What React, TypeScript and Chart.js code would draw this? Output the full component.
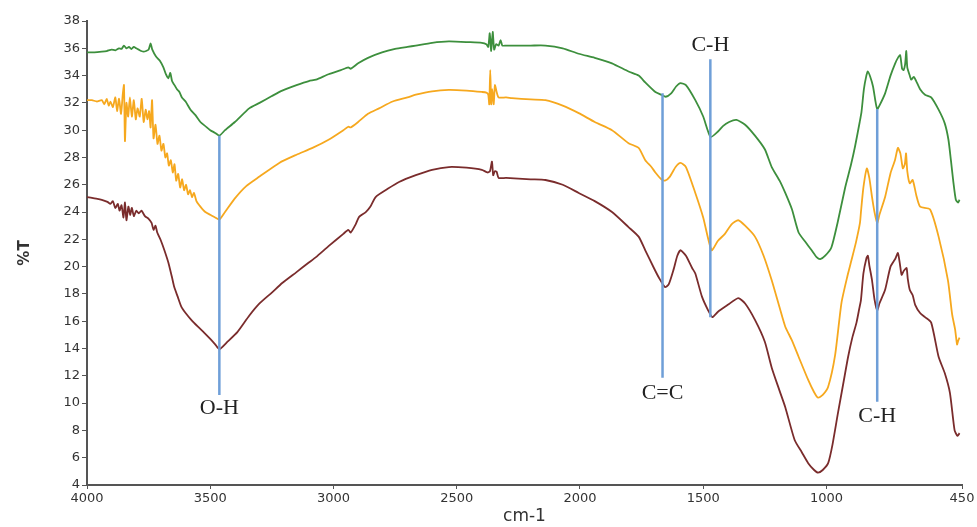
import React, { useEffect, useRef } from "react";
import { Chart, registerables } from "chart.js";

Chart.register(...registerables);

// ---- Data (wavenumber cm-1, %T) ----
const greenX = [4000,3970,3940,3920,3900,3885,3870,3860,3850,3840,3830,3820,3810,3800,3790,3780,3770,3760,3750,3742,3735,3720,3705,3690,3680,3670,3662,3655,3645,3635,3625,3615,3600,3580,3560,3540,3520,3500,3480,3463,3440,3400,3342,3300,3250,3208,3150,3100,3071,3020,2970,2940,2930,2900,2860,2803,2750,2700,2666,2600,2532,2450,2398,2380,2372,2366,2360,2354,2348,2340,2330,2322,2315,2300,2200,2140,2070,2005,1940,1870,1803,1762,1735,1694,1670,1652,1630,1610,1592,1570,1532,1500,1470,1440,1420,1395,1365,1330,1290,1250,1222,1190,1167,1140,1113,1085,1060,1040,1025,1005,980,955,924,900,884,865,858,848,838,832,822,811,800,794,785,762,740,721,710,701,693,687,681,676,672,662,656,646,636,620,600,575,545,520,505,495,485,475,466,460];
const greenY = [35.7,35.7,35.75,35.8,35.9,35.85,36.0,35.95,36.2,36.0,36.1,35.95,36.1,36.0,35.9,35.8,35.75,35.8,35.9,36.35,35.9,35.4,35.1,34.6,34.1,33.8,34.2,33.6,33.3,33.0,32.8,32.4,32.1,31.5,31.1,30.6,30.3,30.0,29.8,29.6,30.0,30.6,31.6,32.0,32.5,32.9,33.3,33.6,33.7,34.1,34.4,34.6,34.5,34.9,35.3,35.7,35.95,36.1,36.2,36.4,36.5,36.45,36.4,36.3,36.1,37.1,35.8,37.2,35.9,36.3,36.2,36.6,36.2,36.2,36.2,36.2,36.0,35.6,35.3,34.9,34.3,34.0,33.5,32.8,32.6,32.45,32.7,33.2,33.45,33.3,32.2,31.0,29.5,29.9,30.3,30.6,30.75,30.4,29.6,28.6,27.3,26.3,25.4,24.2,22.5,21.8,21.2,20.7,20.55,20.8,21.4,23.2,25.8,27.5,28.8,30.6,31.3,33.0,34.0,34.3,33.9,33.2,32.0,31.55,31.8,32.7,34.0,34.9,35.3,35.5,34.5,34.4,34.8,35.8,34.6,34.0,33.7,33.9,33.6,33.0,32.6,32.4,31.5,30.5,29.3,27.8,26.2,24.9,24.7,24.9];

const orangeX = [4000,3980,3960,3940,3930,3920,3912,3905,3895,3885,3878,3870,3862,3855,3850,3846,3840,3833,3826,3818,3810,3802,3795,3786,3778,3770,3762,3755,3748,3742,3736,3730,3722,3714,3706,3698,3690,3682,3675,3668,3660,3652,3645,3638,3630,3622,3614,3606,3598,3590,3582,3574,3566,3556,3540,3520,3500,3480,3463,3440,3400,3354,3300,3220,3150,3085,3020,2960,2940,2930,2900,2860,2815,2760,2700,2666,2600,2532,2460,2398,2380,2372,2368,2364,2360,2356,2350,2345,2338,2330,2300,2276,2200,2140,2070,2005,1940,1870,1803,1762,1735,1710,1694,1670,1655,1635,1612,1592,1570,1532,1500,1466,1440,1412,1385,1358,1330,1290,1255,1222,1190,1167,1140,1113,1074,1050,1034,1015,993,965,939,915,898,880,864,860,850,836,826,815,805,794,785,762,740,722,710,700,690,682,677,672,662,650,635,620,580,545,507,490,478,470,465,460];
const orangeY = [32.2,32.2,32.1,32.2,31.9,32.3,31.8,32.1,31.7,32.4,31.4,32.3,31.2,32.6,33.3,29.2,32.0,31.0,32.4,31.0,32.2,30.8,31.6,31.0,32.3,30.6,31.5,30.8,31.4,30.2,32.2,29.4,30.4,29.0,29.6,28.5,29.0,28.0,28.3,27.4,27.8,26.9,27.5,26.3,26.8,25.8,26.4,25.6,26.0,25.3,25.6,25.1,25.4,24.8,24.4,24.0,23.8,23.6,23.45,24.0,25.0,25.9,26.6,27.6,28.2,28.7,29.3,30.0,30.25,30.2,30.6,31.2,31.6,32.1,32.4,32.6,32.85,32.95,32.9,32.8,32.75,32.6,31.9,34.4,31.9,33.0,31.9,33.3,32.8,32.4,32.4,32.35,32.25,32.2,31.8,31.25,30.6,30.0,29.05,28.7,27.8,27.3,26.9,26.4,26.3,26.6,27.3,27.6,27.3,25.4,23.6,21.2,21.9,22.4,23.1,23.4,23.0,22.2,20.8,19.0,17.0,15.6,14.6,13.4,11.7,10.8,10.4,10.6,11.2,13.5,17.35,19.3,20.5,21.8,23.2,24.0,25.8,27.2,26.5,25.1,24.0,23.2,23.8,25.1,26.85,27.8,28.7,28.3,27.2,27.5,28.3,27.0,26.1,26.35,25.2,24.4,24.2,22.2,19.0,16.5,15.4,14.3,14.6,14.8];

const brownX = [4000,3970,3940,3917,3905,3895,3885,3875,3868,3860,3852,3846,3840,3832,3825,3818,3810,3800,3790,3779,3765,3750,3738,3730,3722,3715,3700,3686,3670,3655,3646,3632,3617,3600,3577,3550,3524,3500,3480,3463,3430,3390,3342,3300,3250,3208,3150,3100,3071,3020,2960,2940,2930,2910,2896,2869,2850,2829,2780,2734,2666,2600,2532,2460,2398,2375,2365,2357,2352,2345,2338,2330,2300,2200,2140,2070,2005,1940,1870,1803,1762,1735,1700,1680,1655,1640,1620,1605,1592,1570,1545,1532,1505,1480,1463,1440,1400,1358,1330,1290,1250,1222,1190,1167,1129,1100,1074,1050,1034,1015,993,975,953,930,912,895,878,866,860,850,838,832,826,815,805,794,785,762,740,720,710,702,695,686,675,670,662,650,640,620,600,575,545,520,499,480,468,460];
const brownY = [25.1,25.0,24.9,24.75,24.6,24.8,24.3,24.6,24.1,24.5,23.6,24.7,23.4,24.4,23.8,24.3,23.7,24.1,23.9,24.1,23.7,23.5,23.2,22.7,23.0,22.5,21.9,21.2,20.3,19.2,18.5,17.8,17.05,16.6,16.1,15.6,15.15,14.7,14.3,13.95,14.5,15.2,16.4,17.3,18.1,18.8,19.6,20.3,20.7,21.5,22.4,22.7,22.5,23.1,23.65,24.0,24.4,25.1,25.7,26.2,26.7,27.1,27.3,27.25,27.1,26.9,27.0,27.7,26.7,27.0,26.95,26.5,26.5,26.4,26.35,26.0,25.4,24.8,24.0,22.9,22.2,21.2,19.9,19.2,18.5,18.7,19.8,20.8,21.2,20.8,19.9,19.5,17.8,16.8,16.3,16.7,17.2,17.7,17.3,16.1,14.5,12.6,10.9,9.7,7.3,6.4,5.6,5.1,4.9,5.1,5.6,7.0,9.3,11.6,13.4,14.8,15.9,17.0,17.55,19.5,20.6,20.8,20.1,19.0,17.6,16.8,17.3,18.3,20.0,20.6,21.0,20.2,19.4,19.7,19.9,19.1,18.3,17.9,17.2,16.6,16.3,15.9,13.4,12.2,10.75,8.0,7.6,7.8];

// Band markers
const markX = [3463, 1665, 1471, 794];
const markTop = [29.6, 32.7, 35.2, 31.55];
const markBottom = [10.6, 11.85, 16.3, 10.1];
const markLabels = ["O-H", "C=C", "C-H", "C-H"];
const markLabelY = [9.65, 10.75, 36.25, 9.05];

const xTicks = [4000, 3500, 3000, 2500, 2000, 1500, 1000, 450];

const toPts = (xs: number[], ys: number[]) => xs.map((x, i) => ({ x, y: ys[i] }));

export default function App() {
  const ref = useRef<HTMLCanvasElement | null>(null);

  useEffect(() => {
    if (!ref.current) return;
    const markSets = markX.map((x, i) => ({
      label: "mark" + i,
      data: [{ x, y: markTop[i] }, { x, y: markBottom[i] }],
      borderColor: "#6f9fd8",
      borderWidth: 2.5,
      pointRadius: 0,
      tension: 0,
    }));
    const labelPlugin = {
      id: "bandLabels",
      afterDatasetsDraw(chart: any) {
        const { ctx, scales } = chart;
        ctx.save();
        ctx.font = '22px "Liberation Serif", "Times New Roman", serif';
        ctx.fillStyle = "#222";
        ctx.textAlign = "center";
        ctx.textBaseline = "middle";
        markLabels.forEach((t, i) => {
          ctx.fillText(t, scales.x.getPixelForValue(markX[i]), scales.y.getPixelForValue(markLabelY[i]));
        });
        ctx.restore();
      },
    };
    const tickFont = { family: '"DejaVu Sans", sans-serif', size: 13 };
    const chart = new Chart(ref.current, {
      type: "line",
      data: {
        datasets: [
          ...markSets,
          { label: "green", data: toPts(greenX, greenY), borderColor: "#3d8f3d", borderWidth: 1.8, pointRadius: 0, tension: 0.2 },
          { label: "orange", data: toPts(orangeX, orangeY), borderColor: "#f6a81e", borderWidth: 1.8, pointRadius: 0, tension: 0.2 },
          { label: "brown", data: toPts(brownX, brownY), borderColor: "#7a2c2c", borderWidth: 1.8, pointRadius: 0, tension: 0.2 },
        ] as any,
      },
      options: {
        animation: false,
        responsive: true,
        maintainAspectRatio: false,
        layout: { padding: { left: 0, right: 15, top: 21, bottom: 0 } },
        plugins: { legend: { display: false }, tooltip: { enabled: false } },
        scales: {
          x: {
            type: "linear",
            min: 450,
            max: 4000,
            reverse: true,
            afterBuildTicks: (s: any) => {
              s.ticks = xTicks.map((v) => ({ value: v }));
            },
            afterFit: (s: any) => {
              s.height = 42;
            },
            ticks: { font: tickFont, color: "#333", padding: 2, autoSkip: false, maxRotation: 0, callback: (v: any) => String(v) },
            grid: { display: true, drawOnChartArea: false, drawTicks: true, tickLength: 4, color: "#555" },
            border: { display: true, color: "#555", width: 2 },
            title: { display: true, text: "cm-1", color: "#333", font: { family: '"DejaVu Sans", sans-serif', size: 17 }, padding: { top: 0, bottom: 0 } },
          },
          y: {
            min: 4,
            max: 38,
            ticks: { stepSize: 2, font: tickFont, color: "#333", padding: 2 },
            afterFit: (s: any) => {
              s.width = 87;
            },
            grid: { display: true, drawOnChartArea: false, drawTicks: true, tickLength: 5, color: "#555" },
            border: { display: true, color: "#555", width: 2 },
            title: { display: true, text: "%T", color: "#333", font: { family: '"DejaVu Sans", sans-serif', size: 15, weight: "bold" }, padding: { top: 16, bottom: 0 } },
          },
        },
      },
      plugins: [labelPlugin],
    });
    return () => chart.destroy();
  }, []);

  return (
    <div style={{ position: "fixed", left: 0, top: 0, width: 977, height: 527, background: "#fff" }}>
      <canvas ref={ref} />
    </div>
  );
}
